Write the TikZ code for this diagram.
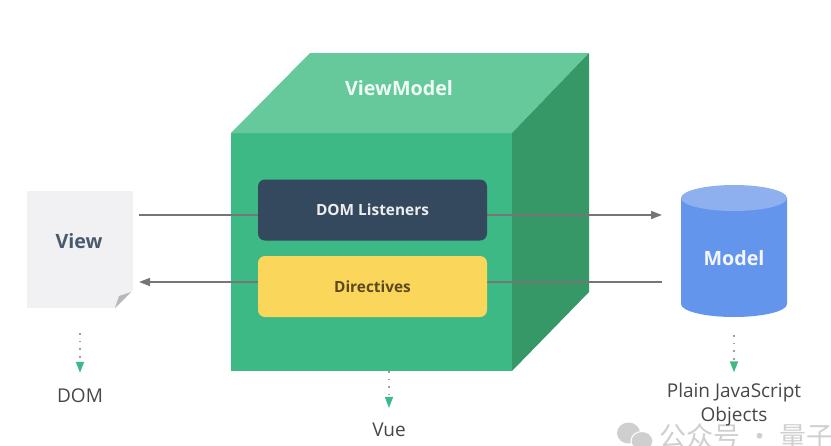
\documentclass[tikz,border=0pt]{standalone}
\usepackage{fontspec}
\setmainfont{Open Sans}
\newfontfamily\cjkfont{Noto Sans CJK SC}
\usetikzlibrary{arrows.meta}
\definecolor{vuegreen}{HTML}{3DB985}
\definecolor{vuetop}{HTML}{66C99B}
\definecolor{vueside}{HTML}{359866}
\definecolor{vuenavy}{HTML}{34495E}
\definecolor{vueyellow}{HTML}{FAD75A}
\definecolor{vueblue}{HTML}{6495ED}
\definecolor{vuesky}{HTML}{8FB0EE}
\definecolor{vuepage}{HTML}{F1F1F3}
\definecolor{vuewire}{HTML}{767676}
\definecolor{vuebrown}{HTML}{5C4A1E}
\definecolor{vuemark}{HTML}{CFCFCF}
\tikzset{
	panel/.style={rounded corners=7pt, minimum width=229pt, minimum height=61pt, inner sep=0pt, font=\bfseries\fontsize{15.4}{15.4}\selectfont},
	title/.style={font=\bfseries\fontsize{19.7}{19.7}\selectfont, inner sep=0pt},
	caption/.style={font=\fontsize{19}{24}\selectfont, text=black!72, align=center, inner sep=0pt},
	wire/.style={draw=vuewire, line width=1.6pt, -{Triangle[length=11pt, width=8pt]}},
	binding/.style={draw=black!38, line width=1.6pt, dash pattern=on 1.6pt off 6pt, -{Triangle[color=vuegreen, length=11pt, width=8pt]}}
}

\begin{document}
\begin{tikzpicture}[x=1pt,y=-1pt]
	\useasboundingbox (0,0) rectangle (831,445);
	% the mark in the corner
	\fill[vuemark] (628.5,433) ellipse (11.5pt and 10.5pt);
	\fill[vuemark, draw=white, line width=1pt] (642,441) ellipse (11pt and 9.5pt);
	\node[font=\cjkfont\fontsize{27}{27}\selectfont, text=vuemark, anchor=west, inner sep=0pt] (mark) at (659,436) {公众号 · 量子位};
	% the cube
	\fill[vuegreen] (231,133) rectangle (512,371);
	\fill[vuetop] (231,133) -- (310,53) -- (589,53) -- (512,133) -- cycle;
	\fill[vueside] (512,133) -- (589,53) -- (589,292) -- (512,371) -- cycle;
	\coordinate (cubebase) at (389,371);
	\node[title, text=white!90!vuetop] (vmlabel) at (399,88) {ViewModel};
	% view and model
	\node[fill=vuepage, minimum width=106pt, minimum height=117pt, inner sep=0pt] (view) at (80,249.5) {};
	\fill[white] (115,308.5) -- (133.5,308.5) -- (133.5,290) -- cycle;
	\fill[black!28] (115,308) -- (131,292) -- (119,296) -- cycle;
	\node[title, text=vuenavy!90] (viewlabel) at (79,241) {View};
	\fill[vueblue] (681,198) -- (681,304) arc[start angle=180, end angle=360, x radius=53pt, y radius=13pt] -- (787,198) -- cycle;
	\fill[vuesky] (734,198) ellipse (53pt and 13pt);
	\node[minimum width=106pt, minimum height=132pt, inner sep=0pt] (model) at (734,251) {};
	\node[title, text=white!92!vueblue] (modellabel) at (734,258) {Model};
	% the two wires, under the panels
	\coordinate (viewout) at (139,215);
	\coordinate (viewin) at (139,282);
	\coordinate (modelin) at (662,215);
	\coordinate (modelout) at (662,282);
	\draw[wire] (viewout) -- (modelin);
	\draw[wire] (modelout) -- (viewin);
	\node[panel, fill=vuenavy, text=white!90!vuenavy] (listeners) at (372.5,210) {DOM Listeners};
	\node[panel, fill=vueyellow, text=vuebrown] (directives) at (372.5,286.5) {Directives};
	% the captions
	\node[caption] (dom) at (80,396) {DOM};
	\node[caption] (vue) at (389,430) {Vue};
	\node[caption] (plain) at (734,405) {Plain JavaScript\\Objects};
	\draw[binding, shorten <=25pt, shorten >=16pt] (view) -- (dom);
	\draw[binding, shorten >=15pt] (cubebase) -- (vue);
	\draw[binding, shorten <=18pt, shorten >=11pt] (model) -- (plain);
\end{tikzpicture}
\end{document}
